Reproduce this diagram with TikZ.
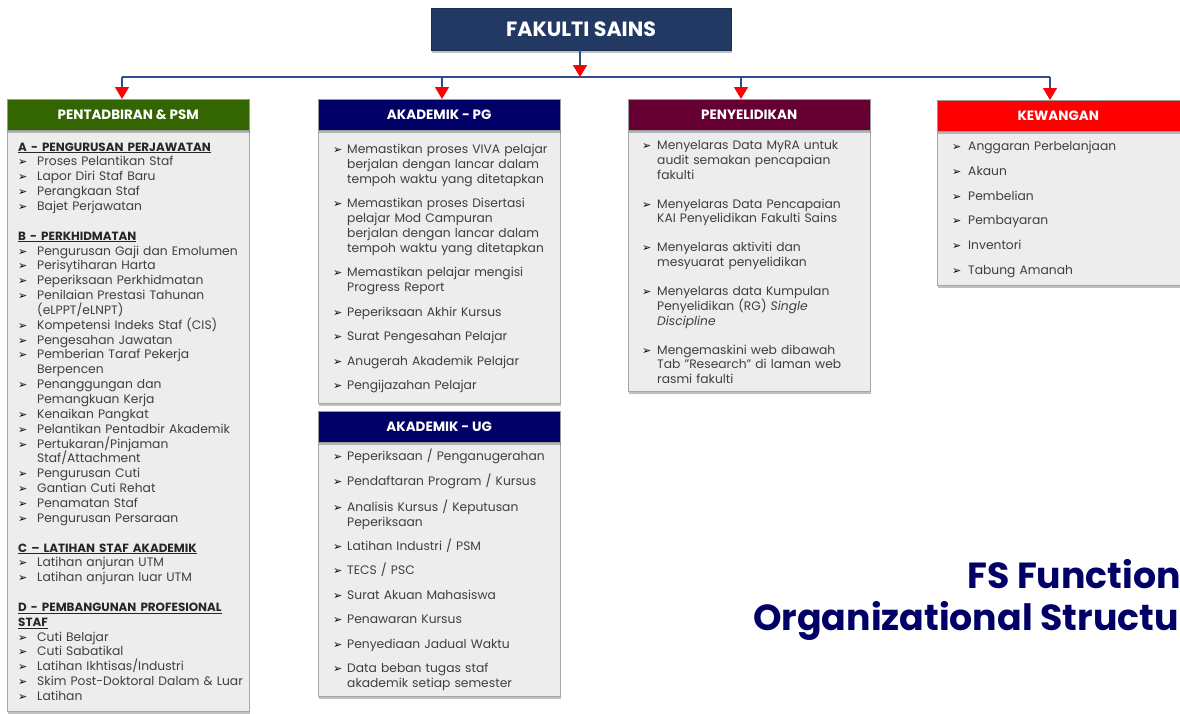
\documentclass[tikz,border=0pt]{standalone}
\usepackage{fontspec}
\setmainfont{Poppins}
\newfontfamily\dejavu{DejaVu Sans}
\usetikzlibrary{arrows.meta,shadows}
\definecolor{topnavy}{HTML}{223A63}
\definecolor{pgnavy}{HTML}{000066}
\definecolor{grn}{HTML}{336600}
\definecolor{maroon}{HTML}{660033}
\definecolor{connblue}{HTML}{2F4F8F}
\definecolor{bodyfill}{HTML}{EDEDED}
\definecolor{bodyline}{HTML}{A6A6A6}
\definecolor{txtgray}{HTML}{3F3F3F}
\newlength\bind
\newcommand\bulsym{{\dejavu\fontsize{11}{11}\selectfont\color{black}➢}}
\newcommand\bitem[1]{\par\noindent\hangindent=\bind\hangafter=1\makebox[\bind][l]{\bulsym}#1\par}
\newcommand\hdl[1]{\par\noindent{\bfseries\fontsize{11.9}{14.8}\selectfont\color{black!85}\underline{#1}}\par}
\tikzset{
  x=1pt, y=-1pt,
  conn/.style={draw=connblue, line width=1.2pt},
  redtip/.style={-{Triangle[width=14pt,length=12pt,color=red,fill=red]}},
  shad/.style={drop shadow={shadow xshift=1pt, shadow yshift=-2.5pt, opacity=0.35, fill=black!70}},
  topbox/.style={rectangle, fill=topnavy, draw=topnavy!80!black, line width=0.4pt, minimum width=300pt, minimum height=42pt, inner sep=0pt, text=white, font=\bfseries\fontsize{20.6}{24}\selectfont, shad},
  hdr/.style={rectangle, draw=black!40, line width=0.4pt, minimum width=242pt, minimum height=31pt, inner sep=0pt, text=white, font=\bfseries\fontsize{13.5}{16}\selectfont, anchor=north west, shad},
  body/.style={rectangle, fill=bodyfill, draw=bodyline, line width=0.6pt, minimum width=242pt, inner sep=0pt, anchor=north west, shad},
  txt/.style={anchor=north west, inner sep=0pt, align=left, text=txtgray, font=\fontsize{12.3}{14.85}\selectfont},
  ttl/.style={anchor=base west, inner sep=0pt, text=pgnavy, font=\bfseries\fontsize{36.3}{40}\selectfont}
}
\begin{document}
\begin{tikzpicture}
\useasboundingbox (0,0) rectangle (1180,713);
\clip (0,0) rectangle (1180,713);
\fill[white] (0,0) rectangle (1180,713);

% top box
\node[topbox] (top) at (581,29) {FAKULTI SAINS};

% column 1
\node[body, minimum height=581pt] (b1) at (7,130) {};
\node[hdr, fill=grn] (h1) at (7,99) {PENTADBIRAN \& PSM};
\node[txt, text width=240pt] (t1) at (18,136) {\setlength\bind{19pt}\setlength\parskip{0pt}%
\hdl{A - PENGURUSAN PERJAWATAN}
\bitem{Proses Pelantikan Staf}
\bitem{Lapor Diri Staf Baru}
\bitem{Perangkaan Staf}
\bitem{Bajet Perjawatan}
\vspace{\baselineskip}
\hdl{B - PERKHIDMATAN}
\bitem{Pengurusan Gaji dan Emolumen}
\bitem{Perisytiharan Harta}
\bitem{Peperiksaan Perkhidmatan}
\bitem{Penilaian Prestasi Tahunan\newline(eLPPT/eLNPT)}
\bitem{Kompetensi Indeks Staf (CIS)}
\bitem{Pengesahan Jawatan}
\bitem{Pemberian Taraf Pekerja\newline Berpencen}
\bitem{Penanggungan dan\newline Pemangkuan Kerja}
\bitem{Kenaikan Pangkat}
\bitem{Pelantikan Pentadbir Akademik}
\bitem{Pertukaran/Pinjaman\newline Staf/Attachment}
\bitem{Pengurusan Cuti}
\bitem{Gantian Cuti Rehat}
\bitem{Penamatan Staf}
\bitem{Pengurusan Persaraan}
\vspace{\baselineskip}
\hdl{C -- LATIHAN STAF AKADEMIK}
\bitem{Latihan anjuran UTM}
\bitem{Latihan anjuran luar UTM}
\vspace{\baselineskip}
\hdl{D - PEMBANGUNAN PROFESIONAL}
\hdl{STAF}
\bitem{Cuti Belajar}
\bitem{Cuti Sabatikal}
\bitem{Latihan Ikhtisas/Industri}
\bitem{Skim Post-Doktoral Dalam \& Luar}
\bitem{Latihan}};

% column 2 PG
\node[body, minimum height=273pt] (b2) at (318,130) {};
\node[hdr, fill=pgnavy] (h2) at (318,99) {AKADEMIK - PG};
\node[txt, text width=240pt] (t2) at (333,129) {\setlength\bind{14pt}\setlength\parskip{9.6pt}%
\bitem{Memastikan proses VIVA pelajar\newline berjalan dengan lancar dalam\newline tempoh waktu yang ditetapkan}
\bitem{Memastikan proses Disertasi\newline pelajar Mod Campuran\newline berjalan dengan lancar dalam\newline tempoh waktu yang ditetapkan}
\bitem{Memastikan pelajar mengisi\newline Progress Report}
\bitem{Peperiksaan Akhir Kursus}
\bitem{Surat Pengesahan Pelajar}
\bitem{Anugerah Akademik Pelajar}
\bitem{Pengijazahan Pelajar}};

% column 2 UG
\node[body, minimum height=255pt] (b5) at (318,441) {};
\node[hdr, fill=pgnavy] (h5) at (318,411) {AKADEMIK - UG};
\node[txt, text width=240pt] (t5) at (333,435.5) {\setlength\bind{14pt}\setlength\parskip{9.6pt}%
\bitem{Peperiksaan / Penganugerahan}
\bitem{Pendaftaran Program / Kursus}
\bitem{Analisis Kursus / Keputusan\newline Peperiksaan}
\bitem{Latihan Industri / PSM}
\bitem{TECS / PSC}
\bitem{Surat Akuan Mahasiswa}
\bitem{Penawaran Kursus}
\bitem{Penyediaan Jadual Waktu}
\bitem{Data beban tugas staf\newline akademik setiap semester}};

% column 3
\node[body, minimum height=261pt] (b3) at (628,130) {};
\node[hdr, fill=maroon] (h3) at (628,99) {PENYELIDIKAN};
\node[txt, text width=240pt] (t3) at (642,120.5) {\setlength\bind{15pt}\setlength\parskip{14pt}%
\bitem{Menyelaras Data MyRA untuk\newline audit semakan pencapaian\newline fakulti}
\bitem{Menyelaras Data Pencapaian\newline KAI Penyelidikan Fakulti Sains}
\bitem{Menyelaras aktiviti dan\newline mesyuarat penyelidikan}
\bitem{Menyelaras data Kumpulan\newline Penyelidikan (RG) \textit{Single}\newline \textit{Discipline}}
\bitem{Mengemaskini web dibawah\newline Tab "Research" di laman web\newline rasmi fakulti}};

% column 4
\node[body, minimum width=250pt, minimum height=154pt] (b4) at (937,131) {};
\node[hdr, fill=red, minimum width=250pt] (h4) at (937,100) {\hspace*{-8pt}KEWANGAN};
\node[txt, text width=240pt] (t4) at (952,126) {\setlength\bind{16pt}\setlength\parskip{9.8pt}%
\bitem{Anggaran Perbelanjaan}
\bitem{Akaun}
\bitem{Pembelian}
\bitem{Pembayaran}
\bitem{Inventori}
\bitem{Tabung Amanah}};

% connectors
\coordinate (hub) at (580,77);
\coordinate (c1) at (122,77);
\coordinate (c2) at (442,77);
\coordinate (c3) at (741,77);
\coordinate (c4) at (1050,77);
\draw[conn] (c1) -- (c4);
\draw[conn, redtip] (top.south -| hub) -- (hub);
\draw[conn, redtip] (c1) -- (c1 |- h1.north);
\draw[conn, redtip] (c2) -- (c2 |- h2.north);
\draw[conn, redtip] (c3) -- (c3 |- h3.north);
\draw[conn, redtip] (c4) -- (c4 |- h4.north);

% title
\node[ttl] (ti1) at (967,588) {FS Function};
\node[ttl] (ti2) at (753,630) {Organizational Structu};
\end{tikzpicture}
\end{document}
